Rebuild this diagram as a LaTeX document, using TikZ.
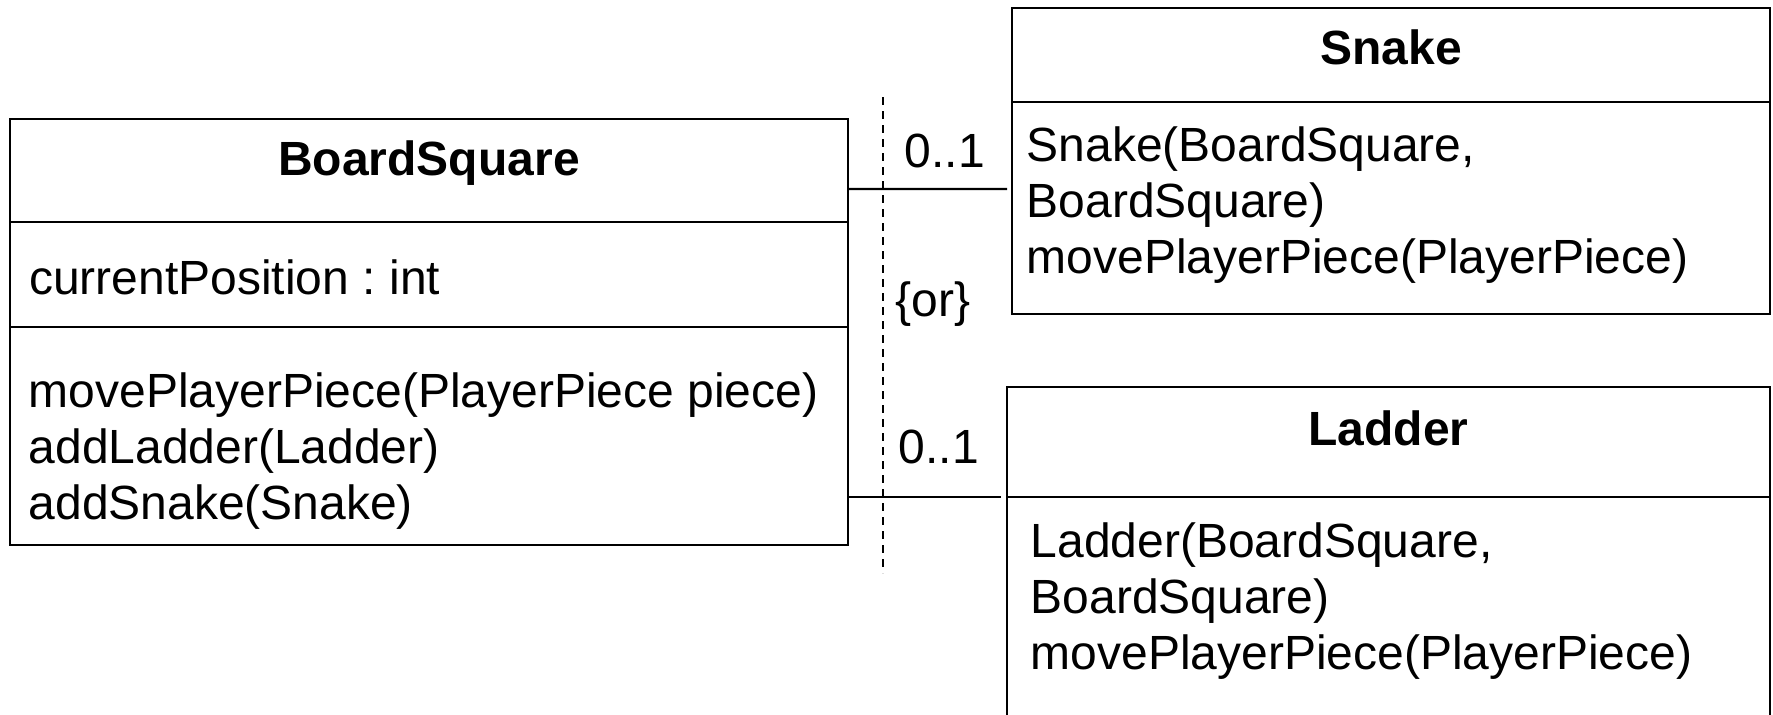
\documentclass[tikz,border=0pt]{standalone}
\usepackage{fontspec}
\setmainfont{Liberation Sans}
\usetikzlibrary{positioning}
\frenchspacing

\begin{document}
\begin{tikzpicture}[
			x=0.1mm, y=-0.1mm,
			compart/.style={rectangle, draw=black, line width=0.6pt, inner sep=0pt, outer sep=0pt},
			classname/.style={font=\fontsize{13.66pt}{15.93pt}\selectfont\bfseries, inner sep=0pt, anchor=base},
			member/.style={font=\fontsize{13.66pt}{15.93pt}\selectfont, inner sep=0pt, align=left, anchor=base west},
			mult/.style={font=\fontsize{13.66pt}{15.93pt}\selectfont, inner sep=0pt, anchor=base west}
		]
			\useasboundingbox (0,0) rectangle (1773,715);
			\node[compart, anchor=north west, minimum width=83.8mm, minimum height=10.3mm] (bsHead) at (10,119) {};
			\node[compart, minimum width=83.8mm, minimum height=10.5mm] (bsAttr) [below=0pt of bsHead] {};
			\node[compart, minimum width=83.8mm, minimum height=21.8mm] (bsOps) [below=0pt of bsAttr] {};
			\node[classname] (bsName) at ([yshift=-5.6mm]bsHead.north) {BoardSquare};
			\node[member] (bsAttrText) at ([xshift=1.85mm, yshift=-7.2mm]bsAttr.north west) {currentPosition : int};
			\node[member] (bsOpsText) at ([xshift=1.8mm, yshift=-19.2mm]bsOps.north west) {movePlayerPiece(PlayerPiece piece)\\addLadder(Ladder)\\addSnake(Snake)};
			\node[compart, anchor=north west, minimum width=75.8mm, minimum height=9.4mm] (snakeHead) at (1012,8) {};
			\node[compart, minimum width=75.8mm, minimum height=21.2mm] (snakeOps) [below=0pt of snakeHead] {};
			\node[classname] (snakeName) at ([yshift=-5.6mm]snakeHead.north) {Snake};
			\node[member] (snakeOpsText) at ([xshift=1.4mm, yshift=-17.1mm]snakeOps.north west) {Snake(BoardSquare,\\BoardSquare)\\movePlayerPiece(PlayerPiece)};
			\node[compart, anchor=north west, minimum width=76.3mm, minimum height=11mm] (ladderHead) at (1007,387) {};
			\node[compart, minimum width=76.3mm, minimum height=26.3mm] (ladderOps) [below=0pt of ladderHead] {};
			\node[classname] (ladderName) at ([yshift=-5.8mm]ladderHead.north) {Ladder};
			\node[member] (ladderOpsText) at ([xshift=2.3mm, yshift=-17.2mm]ladderOps.north west) {Ladder(BoardSquare,\\BoardSquare)\\movePlayerPiece(PlayerPiece)};
			\coordinate (orTop) at (883,97);
			\coordinate (orBottom) at (883,573);
			\node[mult] (snakeMult) at (904,167) {0..1};
			\node[mult] (orLabel) at (895,316) {\{or\}};
			\node[mult] (ladderMult) at (898,463) {0..1};
			\begin{scope}[line width=0.6pt]
			\draw ([yshift=-7mm]bsHead.north east) -- ([xshift=-0.5mm, yshift=-8.7mm]snakeOps.north west);
			\draw (bsOps.east |- ladderHead.south) -- ([xshift=-0.6mm]ladderHead.south west);
			\end{scope}
			\draw[line width=0.45pt, dash pattern=on 0.8mm off 0.6mm] (orTop) -- (orBottom);
			\end{tikzpicture}
\end{document}
